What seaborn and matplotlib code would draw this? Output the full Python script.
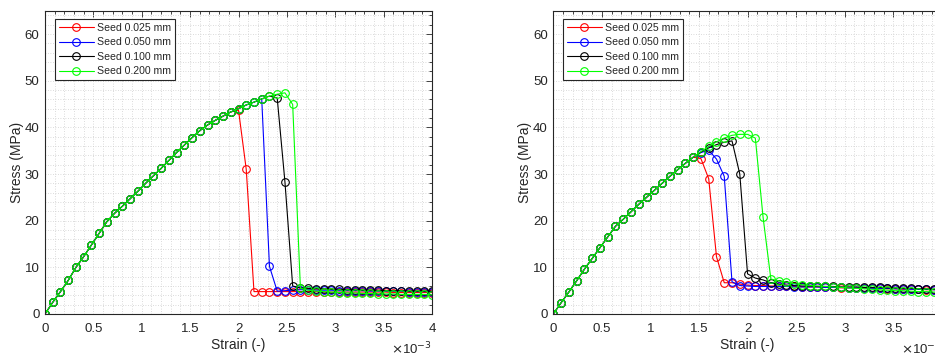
import matplotlib
matplotlib.use("Agg")
import matplotlib.pyplot as plt
import seaborn as sns
from matplotlib.ticker import MultipleLocator, FuncFormatter

sns.set_style("white")
plt.rcParams['font.family'] = ['Liberation Sans', 'DejaVu Sans']

# strain values in units of 1e-3
strain = [0.00, 0.08, 0.16, 0.24, 0.32, 0.40, 0.48, 0.56, 0.64, 0.72,
          0.80, 0.88, 0.96, 1.04, 1.12, 1.20, 1.28, 1.36, 1.44, 1.52,
          1.60, 1.68, 1.76, 1.84, 1.92, 2.00, 2.08, 2.16, 2.24, 2.32,
          2.40, 2.48, 2.56, 2.64, 2.72, 2.80, 2.88, 2.96, 3.04, 3.12,
          3.20, 3.28, 3.36, 3.44, 3.52, 3.60, 3.68, 3.76, 3.84, 3.92,
          4.00]

seeds = ["Seed 0.025 mm", "Seed 0.050 mm", "Seed 0.100 mm", "Seed 0.200 mm"]
colors = ["#ff0000", "#0000ff", "#000000", "#00ff00"]

# ---- left panel (MPa) ----
left_rise = [0.0, 2.5, 4.8, 7.2, 10.0, 12.3, 14.8, 17.3, 19.8, 21.6,
             23.1, 24.7, 26.3, 28.0, 29.6, 31.2, 32.9, 34.6, 36.2, 37.8,
             39.3, 40.5, 41.5, 42.4, 43.3, 44.0, 44.8, 45.4, 46.1, 46.7,
             47.1, 47.4]
left_red_post = [43.7, 31.0, 4.8, 4.8, 4.8, 4.8, 4.8, 4.8, 4.8, 4.8, 4.8, 4.7,
                 4.7, 4.7, 4.7, 4.7, 4.7, 4.7, 4.7, 4.7, 4.6, 4.6, 4.6, 4.6,
                 4.6, 4.6]
left_blue_post = [10.2, 4.9, 5.0, 5.1, 5.2, 5.2, 5.1, 5.1, 5.1, 5.0, 5.0, 5.0,
                  5.0, 4.9, 4.9, 4.9, 4.9, 4.9, 4.8, 4.8, 4.8, 4.8]
left_black_post = [46.3, 28.3, 6.0, 5.6, 5.5, 5.4, 5.4, 5.3, 5.3, 5.2, 5.2, 5.1,
                   5.1, 5.1, 5.0, 5.0, 5.0, 4.9, 4.9, 4.9, 4.9]
left_green_post = [44.9, 5.5, 5.1, 4.9, 4.8, 4.7, 4.6, 4.5, 4.5, 4.4, 4.4, 4.3,
                   4.3, 4.3, 4.2, 4.2, 4.2, 4.2, 4.1]

# ---- right panel (MPa) ----
right_rise = [0.0, 2.4, 4.7, 7.1, 9.6, 11.9, 14.2, 16.5, 18.8, 20.3,
              21.9, 23.5, 25.0, 26.5, 28.0, 29.5, 30.9, 32.3, 33.6]
right_red_post = [33.3, 29.0, 12.3, 6.7, 6.7, 6.4, 6.2, 6.1, 6.1, 6.0, 6.0, 5.9,
                  5.9, 5.8, 5.8, 5.8, 5.7, 5.7, 5.6, 5.6, 5.6, 5.5, 5.5, 5.5,
                  5.4, 5.4, 5.3, 5.3, 5.3, 5.2, 5.2, 5.2]
right_blue_post = [34.6, 35.1, 33.2, 29.5, 6.9, 6.1, 6.0, 5.9, 5.9, 5.9, 5.9, 5.9,
                   5.8, 5.8, 5.8, 5.8, 5.7, 5.7, 5.7, 5.6, 5.6, 5.6, 5.5, 5.5,
                   5.5, 5.4, 5.4, 5.3, 5.3, 5.3, 5.2, 5.2]
right_black_post = [34.7, 35.6, 36.3, 36.8, 37.1, 30.0, 8.6, 7.7, 7.3, 6.7, 6.4, 6.2,
                    6.1, 6.0, 6.0, 5.9, 5.9, 5.9, 5.8, 5.8, 5.8, 5.7, 5.7, 5.7,
                    5.6, 5.6, 5.5, 5.5, 5.4, 5.4, 5.3, 5.3]
right_green_post = [34.8, 35.9, 36.9, 37.7, 38.3, 38.5, 38.5, 37.7, 20.7, 7.5, 7.1, 6.8,
                    6.5, 6.3, 6.1, 6.0, 5.9, 5.8, 5.7, 5.6, 5.5, 5.4, 5.3, 5.2,
                    5.1, 5.0, 5.0, 4.9, 4.8, 4.8, 4.7, 4.7]

left_series = [left_rise[:25] + left_red_post,
               left_rise[:29] + left_blue_post,
               left_rise[:30] + left_black_post,
               left_rise[:32] + left_green_post]
right_series = [right_rise + right_red_post,
                right_rise + right_blue_post,
                right_rise + right_black_post,
                right_rise + right_green_post]

AX_C = "#262626"
W, H = 935, 358
fig = plt.figure(figsize=(W / 100, H / 100), dpi=100)
ax_w = 387 / W
ax_h = 303.3 / H
bottom = (H - 314) / H
ax1 = fig.add_axes([45 / W, bottom, ax_w, ax_h])
ax2 = fig.add_axes([553.3 / W, bottom, 388.5 / W, ax_h])

for ax, series in ((ax1, left_series), (ax2, right_series)):
    for lab, col, ys in zip(seeds, colors, series):
        xs = [s * 1e-3 for s in strain[:len(ys)]]
        sns.lineplot(x=xs, y=ys, ax=ax, color=col, label=lab,
                     marker='o', markersize=5.5, markerfacecolor='none',
                     markeredgecolor=col, markeredgewidth=0.8,
                     linewidth=0.8, estimator=None, sort=False)
    ax.set_xlim(0, 4e-3)
    ax.set_ylim(0, 65)
    ax.xaxis.set_major_locator(MultipleLocator(0.5e-3))
    ax.xaxis.set_minor_locator(MultipleLocator(0.1e-3))
    ax.yaxis.set_major_locator(MultipleLocator(10))
    ax.yaxis.set_minor_locator(MultipleLocator(2))
    ax.xaxis.set_major_formatter(FuncFormatter(lambda v, p: f"{v * 1e3:g}"))
    ax.yaxis.set_major_formatter(FuncFormatter(lambda v, p: f"{v:g}"))
    ax.grid(which='both', linestyle=(0, (1, 2)), color='#cfcfcf', linewidth=0.6)
    ax.set_axisbelow(True)
    ax.tick_params(which='both', direction='in', top=True, right=True,
                   colors=AX_C, labelcolor=AX_C, labelsize=9.5, width=0.6)
    ax.tick_params(which='major', length=4)
    ax.tick_params(axis='x', which='major', pad=6.5)
    ax.tick_params(axis='y', which='major', pad=4)
    ax.tick_params(which='minor', length=2)
    for sp in ax.spines.values():
        sp.set_color(AX_C)
        sp.set_linewidth(0.8)
        sp.set_visible(True)
    ax.set_xlabel("Strain (-)", fontsize=10, color=AX_C, labelpad=2)
    ax.set_ylabel("Stress (MPa)", fontsize=10, color=AX_C, labelpad=0.5)
    ax.text(1.0, -0.087, r"$\times$10$^{-3}$", transform=ax.transAxes,
            ha='right', va='top', fontsize=9.5, color=AX_C)
    leg = ax.legend(loc='upper left', bbox_to_anchor=(10 / 387, 1 - 8.6 / 303.3),
                    borderaxespad=0, frameon=True, fancybox=False,
                    edgecolor=AX_C, fontsize=7.6, handlelength=3.3,
                    handletextpad=0.3, labelspacing=0.42, borderpad=0.35,
                    framealpha=1)
    leg.get_frame().set_linewidth(0.8)
    for t in leg.get_texts():
        t.set_color(AX_C)

fig.savefig("out.png", dpi=100)
